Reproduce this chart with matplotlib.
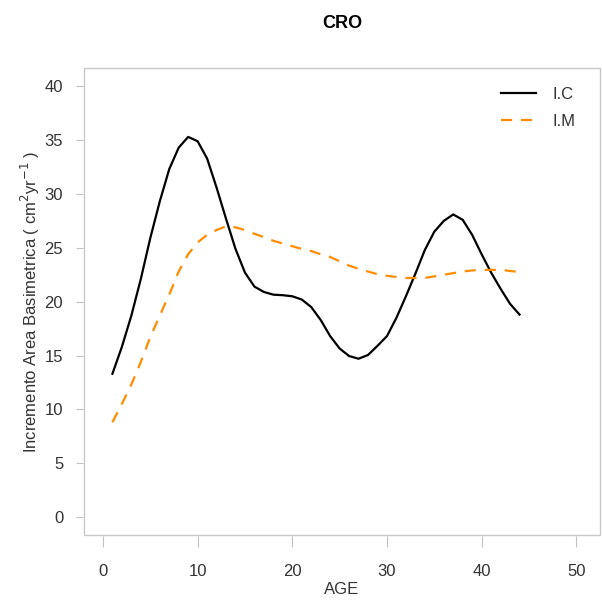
import numpy as np
import matplotlib
matplotlib.use("Agg")
import matplotlib.pyplot as plt
from matplotlib.patches import Rectangle

plt.rcParams['font.family'] = ['Liberation Sans', 'DejaVu Sans']

# age in years
age = list(range(1, 45))

# incremento corrente (I.C)
ic = [13.3, 15.8, 18.7, 22.1, 25.9, 29.3, 32.3, 34.3, 35.3, 34.9,
      33.3, 30.6, 27.7, 24.9, 22.7, 21.4, 20.9, 20.65, 20.6, 20.5,
      20.2, 19.5, 18.3, 16.8, 15.65, 14.95, 14.7, 15.05, 15.9, 16.8,
      18.5, 20.5, 22.6, 24.8, 26.5, 27.5, 28.1, 27.6, 26.2, 24.4,
      22.7, 21.2, 19.8, 18.8]

# incremento medio (I.M)
im = [8.8, 10.5, 12.3, 14.4, 16.7, 18.7, 20.65, 22.8, 24.4, 25.5,
      26.2, 26.65, 27.0, 26.9, 26.65, 26.3, 26.0, 25.65, 25.4, 25.15,
      24.9, 24.7, 24.4, 24.15, 23.75, 23.35, 23.05, 22.8, 22.55, 22.4,
      22.3, 22.2, 22.2, 22.2, 22.35, 22.5, 22.65, 22.8, 22.9, 22.95,
      22.95, 22.95, 22.85, 22.75]

xticks = [0, 10, 20, 30, 40, 50]
yticks = [0, 5, 10, 15, 20, 25, 30, 35, 40]

fig = plt.figure(figsize=(6.02, 6.10), dpi=100)
ax = fig.add_axes([84 / 602, 1 - 535 / 610, 516 / 602, 467 / 610])

ax.plot(age, ic, color='black', lw=1.6, label='I.C')
ax.plot(age, im, color='#FF8C00', lw=1.6, dashes=(5, 4), label='I.M')

ax.set_xlim(-2.0, 52.5)
ax.set_ylim(-1.67, 41.7)
ax.set_xticks(xticks)
ax.set_yticks(yticks)

for s in ax.spines.values():
    s.set_color('none')
ax.spines['bottom'].set_position(('outward', 1))
ax.spines['left'].set_position(('outward', 1))
ax.add_patch(Rectangle((0, 0), 1, 1, transform=ax.transAxes, fill=False,
                       edgecolor='#c8c8c8', lw=1.0, clip_on=False))

ax.tick_params(axis='x', length=8, color='#c0c0c0', pad=12, labelsize=12, labelcolor='#333333')
ax.tick_params(axis='y', length=5, color='#c0c0c0', pad=9, labelsize=12, labelcolor='#333333')

ax.set_xlabel('AGE', fontsize=12, color='#333333', labelpad=2)
ax.set_ylabel(r'Incremento Area Basimetrica ( cm$^{2}$yr$^{-1}$ )', fontsize=12,
              color='#333333', labelpad=2)
ax.set_title('CRO', fontsize=13, fontweight='bold', pad=29)

ax.legend(loc='upper right', frameon=False, fontsize=12, handlelength=2.1,
          handletextpad=1.0, labelspacing=0.7, borderaxespad=0.6,
          bbox_to_anchor=(0.985, 0.995), labelcolor='#333333')

fig.savefig('out.png', dpi=100)
